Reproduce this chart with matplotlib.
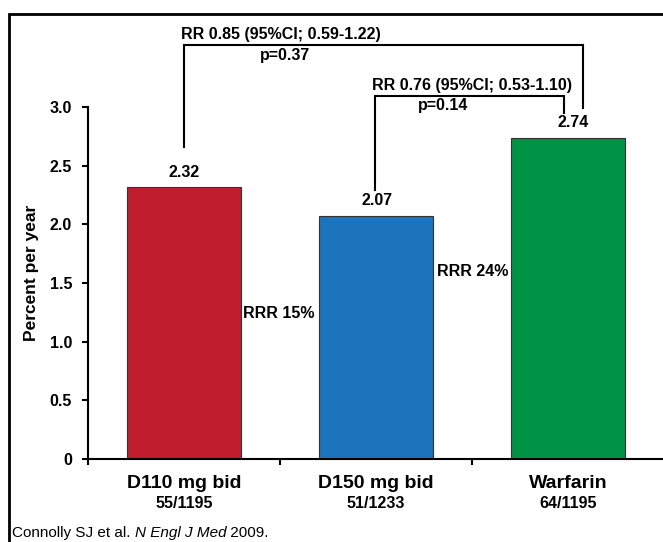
import matplotlib.pyplot as plt
from matplotlib.lines import Line2D

plt.rcParams['font.family'] = ['Liberation Sans', 'DejaVu Sans']

# values
groups = ['D110 mg bid', 'D150 mg bid', 'Warfarin']
events = ['55/1195', '51/1233', '64/1195']
rates = [2.32, 2.07, 2.74]
colors = ['#C01E2E', '#1C74BC', '#009245']
y_ticks = [0, 0.5, 1.0, 1.5, 2.0, 2.5, 3.0]
y_tick_labels = ['0', '0.5', '1.0', '1.5', '2.0', '2.5', '3.0']
rr_texts = ['RR 0.85 (95%CI; 0.59-1.22)', 'RR 0.76 (95%CI; 0.53-1.10)']
p_texts = ['p=0.37', 'p=0.14']
rrr_texts = ['RRR 15%', 'RRR 24%']

W, H = 663, 542
fs = 11.5
fig = plt.figure(figsize=(W / 100, H / 100), dpi=100)
# axes placed in pixels: x from 88 to right edge, y from 107 (3.0) to 459 (0)
ax = fig.add_axes([88 / W, (H - 459) / H, (W - 88) / W, (459 - 107) / H])

x = list(range(len(groups)))
ax.bar(x, rates, width=0.594, color=colors, edgecolor='#333333', linewidth=0.8, zorder=2)

ax.set_xlim(-0.5, -0.5 + (W - 88) / 192)
ax.set_ylim(0, 3.0)
ax.set_yticks(y_ticks)
ax.set_yticklabels(y_tick_labels, fontsize=fs, fontweight='bold')
ax.set_xticks([-0.5, 0.5, 1.5])
ax.set_xticklabels([])
ax.tick_params(axis='y', direction='out', length=4.5, width=1.5, pad=7)
ax.tick_params(axis='x', direction='out', length=4.5, width=1.5)
for s in ['top', 'right']:
    ax.spines[s].set_visible(False)
ax.spines['left'].set_linewidth(1.5)
ax.spines['bottom'].set_linewidth(1.5)
ax.spines['left'].set_bounds(0, 3.0)

for i in x:
    ax.text(i, -0.205, groups[i], ha='center', va='center', fontsize=14,
            fontweight='bold', clip_on=False)
    ax.text(i, -0.375, events[i], ha='center', va='center', fontsize=fs,
            fontweight='bold', clip_on=False)

# value labels
ax.text(0.0, 2.446, f'{rates[0]:.2f}', ha='center', va='center', fontsize=fs, fontweight='bold')
ax.text(1.005, 2.199, f'{rates[1]:.2f}', ha='center', va='center', fontsize=fs, fontweight='bold')
ax.text(2.026, 2.872, f'{rates[2]:.2f}', ha='center', va='center', fontsize=fs, fontweight='bold')

# comparison brackets
kw = dict(color='black', lw=1.5, clip_on=False, solid_joinstyle='miter')
ax.plot([0.0, 0.0, 2.078, 2.078], [2.659, 3.528, 3.528, 2.99], **kw)
ax.plot([0.995, 0.995, 1.979, 1.979], [2.293, 3.094, 3.094, 2.949], **kw)

ax.text(-0.016, 3.614, rr_texts[0], ha='left', va='center', fontsize=fs, fontweight='bold')
ax.text(0.396, 3.443, p_texts[0], ha='left', va='center', fontsize=fs, fontweight='bold')
ax.text(0.979, 3.187, rr_texts[1], ha='left', va='center', fontsize=fs, fontweight='bold')
ax.text(1.219, 3.017, p_texts[1], ha='left', va='center', fontsize=fs, fontweight='bold')

ax.text(0.307, 1.244, rrr_texts[0], ha='left', va='center', fontsize=fs, fontweight='bold')
ax.text(1.318, 1.594, rrr_texts[1], ha='left', va='center', fontsize=fs, fontweight='bold')

fig.text(32 / W, 1 - 273 / H, 'Percent per year', rotation=90, ha='center', va='center',
         fontsize=12.5, fontweight='bold')

# outer frame (top and left only, rest is cropped)
fig.add_artist(Line2D([9 / W, 9 / W, 1], [0, 1 - 14 / H, 1 - 14 / H], color='black',
                      lw=2, transform=fig.transFigure, solid_joinstyle='miter'))

# footnote with italic journal name
fig.canvas.draw()
r = fig.canvas.get_renderer()
fy = 1 - 533 / H
t1 = fig.text(12 / W, fy, 'Connolly SJ et al. ', fontsize=11, va='center', ha='left')
x1 = t1.get_window_extent(r).x1 / W
t2 = fig.text(x1, fy, 'N Engl J Med', fontsize=11, va='center', ha='left', style='italic')
x2 = t2.get_window_extent(r).x1 / W
fig.text(x2, fy, ' 2009.', fontsize=11, va='center', ha='left')

fig.savefig('out.png', dpi=100)
